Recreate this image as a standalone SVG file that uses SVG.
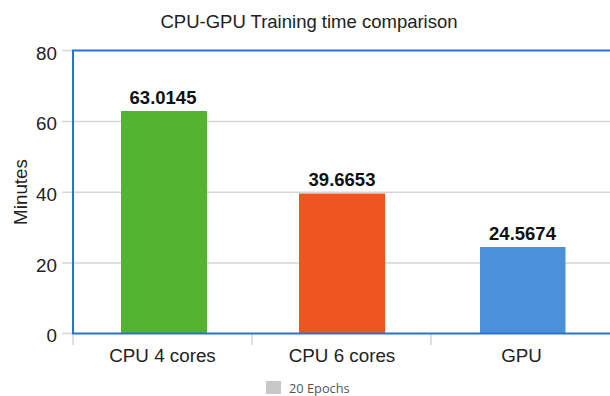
<svg xmlns="http://www.w3.org/2000/svg" width="610" height="396" viewBox="0 0 610 396">
  <style>
    .title { font-family: "Liberation Sans", Arial, sans-serif; font-size: 18.5px; fill: #222; }
    .axis { font-family: "Liberation Sans", Arial, sans-serif; font-size: 18.8px; fill: #222; }
    .value { font-family: "Liberation Sans", Arial, sans-serif; font-size: 18.5px; font-weight: bold; fill: #111; }
    .legend { font-family: "Open Sans", "DejaVu Sans", sans-serif; font-size: 12.8px; fill: #555; }
    .grid { stroke: #d6d6d6; stroke-width: 1.5; fill: none; }
    .frame { stroke: #2a74d0; stroke-width: 2; fill: none; }
  </style>
  <rect width="610" height="396" fill="#ffffff"/>

  <text class="title" x="309" y="28" text-anchor="middle">CPU-GPU Training time comparison</text>

  <!-- grid lines with left ticks -->
  <g id="grid">
    <line class="grid" x1="62" y1="121.4" x2="610" y2="121.4"/>
    <line class="grid" x1="62" y1="192.2" x2="610" y2="192.2"/>
    <line class="grid" x1="62" y1="262.9" x2="610" y2="262.9"/>
    <line class="grid" x1="62" y1="50.5" x2="73" y2="50.5"/>
    <line class="grid" x1="62" y1="333.5" x2="73" y2="333.5"/>
    <line class="grid" x1="73" y1="333.5" x2="73" y2="345"/>
    <line class="grid" x1="252" y1="333.5" x2="252" y2="345"/>
    <line class="grid" x1="431" y1="333.5" x2="431" y2="345"/>
  </g>

  <!-- y axis labels -->
  <g id="y-axis">
    <text class="axis" x="57" y="59.5" text-anchor="end">80</text>
    <text class="axis" x="57" y="130" text-anchor="end">60</text>
    <text class="axis" x="57" y="201" text-anchor="end">40</text>
    <text class="axis" x="57" y="271.5" text-anchor="end">20</text>
    <text class="axis" x="57" y="342" text-anchor="end">0</text>
    <text class="axis" transform="translate(26.5 192) rotate(-90)" text-anchor="middle">Minutes</text>
  </g>

  <!-- bars -->
  <g id="bar-cpu4">
    <rect x="121" y="111" width="86" height="222.5" fill="#53b434"/>
    <text class="value" x="163" y="104" text-anchor="middle">63.0145</text>
    <text class="axis" x="162.5" y="362" text-anchor="middle">CPU 4 cores</text>
  </g>
  <g id="bar-cpu6">
    <rect x="299" y="193.5" width="86" height="140" fill="#ef5520"/>
    <text class="value" x="342" y="186" text-anchor="middle">39.6653</text>
    <text class="axis" x="342" y="362" text-anchor="middle">CPU 6 cores</text>
  </g>
  <g id="bar-gpu">
    <rect x="480" y="247" width="85.5" height="86.5" fill="#4a91d9"/>
    <text class="value" x="522.5" y="240" text-anchor="middle">24.5674</text>
    <text class="axis" x="521.5" y="362" text-anchor="middle">GPU</text>
  </g>

  <!-- plot frame -->
  <g id="frame">
    <polyline class="frame" points="610,50.5 73,50.5 73,333.5 610,333.5"/>
  </g>

  <!-- legend -->
  <g id="legend">
    <rect x="266" y="381" width="15" height="13" fill="#c8c8c8"/>
    <text class="legend" x="289" y="393">20 Epochs</text>
  </g>
</svg>
